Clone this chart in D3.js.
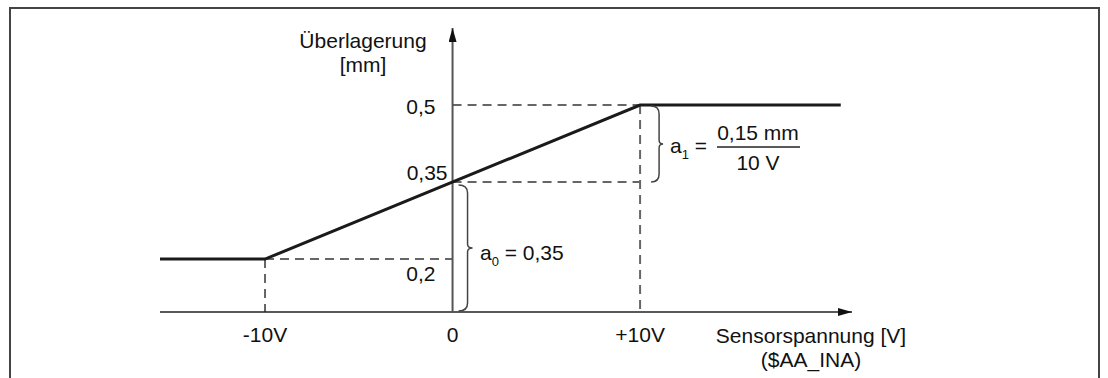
<!DOCTYPE html>
<html><head><meta charset="utf-8">
<script src="https://cdn.jsdelivr.net/npm/d3@7"></script>
<style>
html,body{margin:0;padding:0;background:#fff;}
svg{display:block;font-family:"Liberation Sans",Arial,sans-serif;}
</style></head>
<body><svg id="c" width="1108" height="378"></svg>
<script>
// ---- data ----
const curveVolts   = [-15.6, -10, 10, 20.7];
const curveOverlay = [0.2, 0.2, 0.5, 0.5];
const xTickValues  = [-10, 0, 10];
const xTickLabels  = ["-10V", "0", "+10V"];
const yTickValues  = [0.2, 0.35, 0.5];
const yTickLabels  = ["0,2", "0,35", "0,5"];
const xDomain = [-15.6, 21.3];
const yDomain = [0.097, 0.65];
const yTitle = ["Überlagerung", "[mm]"];
const xTitle = ["Sensorspannung [V]", "($AA_INA)"];
const a0Label = {base: "a", sub: "0", rest: " = 0,35"};
const a1Label = {base: "a", sub: "1", num: "0,15 mm", den: "10 V"};

const svg = d3.select("#c");
const x = d3.scaleLinear().domain(xDomain).range([160, 852]);
const y = d3.scaleLinear().domain(yDomain).range([312, 28]);
const FS = 21;

// frame (open at bottom)
svg.append("path")
  .attr("d", "M10,378 L10,8 L1099,8 L1099,378")
  .attr("fill", "none").attr("stroke", "#444").attr("stroke-width", 2);

// defs arrow
const defs = svg.append("defs");
defs.append("marker").attr("id","arr").attr("viewBox","0 0 14 8")
  .attr("refX",14).attr("refY",4).attr("markerWidth",14).attr("markerHeight",8)
  .attr("markerUnits","userSpaceOnUse").attr("orient","auto")
  .append("path").attr("d","M0,0 L14,4 L0,8 Z").attr("fill","#111");

// dashed guide lines
const dash = svg.append("g").attr("stroke","#666").attr("stroke-width",2)
  .attr("stroke-dasharray","9,6").attr("fill","none");
const line = d3.line().x(d=>x(d[0])).y(d=>y(d[1]));
dash.append("path").attr("d", line([[0,0.5],[10,0.5]]));
dash.append("path").attr("d", line([[0,0.35],[10,0.35]]));
dash.append("path").attr("d", line([[-10,0.2],[0,0.2]]));
dash.append("path").attr("d", line([[-10,0.2],[-10,yDomain[0]]]));
dash.append("path").attr("d", line([[10,0.5],[10,yDomain[0]]]));

// axes
svg.append("line").attr("x1", x(xDomain[0])).attr("x2", x(xDomain[1]))
  .attr("y1", y(yDomain[0])).attr("y2", y(yDomain[0]))
  .attr("stroke","#222").attr("stroke-width",1.6).attr("marker-end","url(#arr)");
svg.append("line").attr("x1", x(0)).attr("x2", x(0))
  .attr("y1", y(yDomain[0])).attr("y2", y(yDomain[1]))
  .attr("stroke","#555").attr("stroke-width",2).attr("marker-end","url(#arr)");

// curve
svg.append("path")
  .attr("d", line(curveVolts.map((v,i)=>[v, curveOverlay[i]])))
  .attr("fill","none").attr("stroke","#1a1a1a").attr("stroke-width",3);

// x tick labels
svg.append("g").selectAll("text").data(xTickValues).join("text")
  .attr("x", d=>x(d)).attr("y", 342).attr("text-anchor","middle")
  .attr("font-size",FS).attr("fill","#111").text((d,i)=>xTickLabels[i]);

// y tick labels
const yLabPos = [{dx:-17, y:281}, {dx:-5, y:180}, {dx:-17, y:114}];
svg.append("g").selectAll("text").data(yTickValues).join("text")
  .attr("x", (d,i)=>x(0)+yLabPos[i].dx)
  .attr("y", (d,i)=>y(d) + (yLabPos[i].y - y(d)))
  .attr("text-anchor","end").attr("font-size",FS).attr("fill","#111")
  .text((d,i)=>yTickLabels[i]);

// axis titles
svg.append("text").attr("x",363).attr("y",48).attr("text-anchor","middle")
  .attr("font-size",FS).attr("fill","#111").text(yTitle[0]);
svg.append("text").attr("x",363).attr("y",72).attr("text-anchor","middle")
  .attr("font-size",FS).attr("fill","#111").text(yTitle[1]);
svg.append("text").attr("x",811).attr("y",343).attr("text-anchor","middle")
  .attr("font-size",FS).attr("fill","#111").text(xTitle[0]);
svg.append("text").attr("x",811).attr("y",367).attr("text-anchor","middle")
  .attr("font-size",FS).attr("fill","#111").text(xTitle[1]);

// braces
function brace(x0, ya, yb, w1, w2){
  const ym = (ya+yb)/2, r = 8;
  const x1 = x0 + w1, x2 = x0 + w2;
  return `M${x0},${ya} Q${x1},${ya} ${x1},${ya+r} L${x1},${ym-4} Q${x1},${ym} ${x2},${ym}`+
         ` Q${x1},${ym} ${x1},${ym+4} L${x1},${yb-r} Q${x1},${yb} ${x0},${yb}`;
}
svg.append("path").attr("d", brace(x(0)+6, y(0.35)+3, y(yDomain[0])-1, 9, 14))
  .attr("fill","none").attr("stroke","#444").attr("stroke-width",1.5);
svg.append("path").attr("d", brace(x(10)+11, y(0.5)+1, y(0.35), 8, 12))
  .attr("fill","none").attr("stroke","#444").attr("stroke-width",1.5);

// a0 label
const t0 = svg.append("text").attr("x",480).attr("y",260).attr("font-size",FS).attr("fill","#111");
t0.append("tspan").text(a0Label.base);
t0.append("tspan").attr("font-size",13).attr("dy",6).text(a0Label.sub);
t0.append("tspan").attr("dy",-6).text(a0Label.rest);

// a1 label
const t1 = svg.append("text").attr("x",670).attr("y",153).attr("font-size",FS).attr("fill","#111");
t1.append("tspan").text(a1Label.base);
t1.append("tspan").attr("font-size",13).attr("dy",6).text(a1Label.sub);
t1.append("tspan").attr("dy",-6).text(" =");
svg.append("text").attr("x",758).attr("y",140).attr("text-anchor","middle")
  .attr("font-size",FS).attr("fill","#111").text(a1Label.num);
svg.append("line").attr("x1",717).attr("x2",800).attr("y1",147).attr("y2",147)
  .attr("stroke","#222").attr("stroke-width",1.5);
svg.append("text").attr("x",758).attr("y",170).attr("text-anchor","middle")
  .attr("font-size",FS).attr("fill","#111").text(a1Label.den);
</script></body></html>
